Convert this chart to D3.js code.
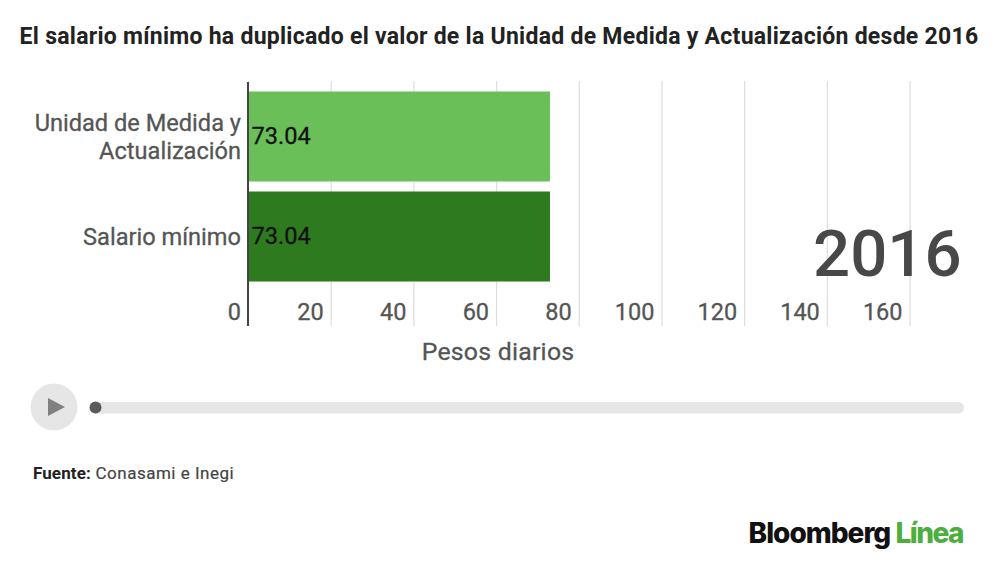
<!DOCTYPE html>
<html>
<head>
<meta charset="utf-8">
<script src="https://cdn.jsdelivr.net/npm/d3@7"></script>
<style>
  html, body { margin: 0; padding: 0; background: #fff; }
  text { font-family: Roboto, sans-serif; }
</style>
</head>
<body>
<svg id="chart" width="1000" height="568"></svg>
<script>
// data
const categories = ["Unidad de Medida y Actualización", "Salario mínimo"];
const categoryLines = [["Unidad de Medida y", "Actualización"], ["Salario mínimo"]];
const values = [73.04, 73.04];
const barColors = ["#6abf58", "#2e7a1f"];
const xTicks = [0, 20, 40, 60, 80, 100, 120, 140, 160];

const svg = d3.select("#chart");

const x = d3.scaleLinear().domain([0, 160]).range([248, 909.5]);
const y = d3.scaleBand().domain(categories).range([86.5, 286.5]).paddingInner(0.1).paddingOuter(0.05);

svg.append("text")
  .attr("x", 499)
  .attr("y", 44)
  .attr("text-anchor", "middle")
  .attr("font-size", 23)
  .attr("font-weight", 700)
  .attr("letter-spacing", 0.27)
  .attr("fill", "#222")
  .text("El salario mínimo ha duplicado el valor de la Unidad de Medida y Actualización desde 2016");

// Grid lines + tick labels (labels sit left of their line)
const xAxis = svg.append("g")
  .attr("transform", "translate(0,326)")
  .call(d3.axisBottom(x).tickValues(xTicks).tickSize(-245).tickPadding(0));
xAxis.select(".domain").remove();
xAxis.selectAll(".tick line").attr("stroke", "#ddd").attr("stroke-width", 1.2);
xAxis.selectAll(".tick text")
  .attr("text-anchor", "end")
  .attr("x", -7.5)
  .attr("y", -6)
  .attr("dy", 0)
  .attr("font-size", 23.5)
  .attr("fill", "#555")
  .attr("stroke", "#555")
  .attr("stroke-width", 0.3);

// Bars
svg.selectAll("rect.bar")
  .data(categories)
  .join("rect")
  .attr("class", "bar")
  .attr("x", x(0))
  .attr("y", (d) => y(d))
  .attr("width", (d, i) => x(values[i]) - x(0))
  .attr("height", y.bandwidth())
  .attr("fill", (d, i) => barColors[i]);

// Zero line on top of the bars
svg.append("line")
  .attr("x1", x(0))
  .attr("x2", x(0))
  .attr("y1", 82)
  .attr("y2", 326)
  .attr("stroke", "#444")
  .attr("stroke-width", 2);

// Value labels
svg.selectAll("text.value")
  .data(categories)
  .join("text")
  .attr("class", "value")
  .attr("x", x(0) + 3.5)
  .attr("y", (d) => y(d) + y.bandwidth() / 2 + 7.5)
  .attr("font-size", 23.6)
  .attr("fill", "#111")
  .attr("stroke", "#111")
  .attr("stroke-width", 0.3)
  .text((d, i) => values[i].toFixed(2));

// Category labels
svg.selectAll("text.cat")
  .data(categories)
  .join("text")
  .attr("class", "cat")
  .attr("text-anchor", "end")
  .attr("font-size", 23.6)
  .attr("fill", "#555")
  .attr("stroke", "#555")
  .attr("stroke-width", 0.3)
  .attr("y", (d, i) => y(d) + y.bandwidth() / 2 + 8.5)
  .each(function (d, i) {
    const lines = categoryLines[i];
    d3.select(this)
      .selectAll("tspan")
      .data(lines)
      .join("tspan")
      .attr("x", 241)
      .attr("dy", (l, j) => (j === 0 ? -(lines.length - 1) * 14 : 28))
      .text((l) => l);
  });

svg.append("text")
  .attr("x", 498)
  .attr("y", 360)
  .attr("text-anchor", "middle")
  .attr("font-size", 24.8)
  .attr("letter-spacing", 0.25)
  .attr("fill", "#555")
  .attr("stroke", "#555")
  .attr("stroke-width", 0.3)
  .text("Pesos diarios");

svg.append("text")
  .attr("x", 961.5)
  .attr("y", 275.5)
  .attr("text-anchor", "end")
  .attr("font-size", 65.3)
  .attr("font-weight", 500)
  .attr("fill", "#484848")
  .text("2016");

// Play control
svg.append("circle").attr("cx", 54).attr("cy", 407).attr("r", 23.5).attr("fill", "#e6e6e6");
svg.append("path").attr("d", d3.line()([[48, 398], [65, 407], [48, 416]]) + "Z").attr("fill", "#808080");
svg.append("rect")
  .attr("x", 90).attr("y", 402).attr("width", 874).attr("height", 11.5).attr("rx", 5.75)
  .attr("fill", "#e6e6e6");
svg.append("circle").attr("cx", 95.5).attr("cy", 407.5).attr("r", 6).attr("fill", "#5a5a5a");

// Source
const source = svg.append("text")
  .attr("x", 33)
  .attr("y", 479)
  .attr("font-size", 17)
  .attr("fill", "#444");
source.append("tspan").attr("font-weight", 700).attr("fill", "#222").attr("letter-spacing", 0.1).text("Fuente:");
source.append("tspan").attr("letter-spacing", 0.5).attr("stroke", "#444").attr("stroke-width", 0.2).text(" Conasami e Inegi");

// Logo wordmark
const logo = svg.append("text")
  .attr("x", 963)
  .attr("y", 543)
  .attr("text-anchor", "end")
  .attr("font-size", 28)
  .attr("font-weight", 800)
  .attr("letter-spacing", -1)
  .style("font-family", "Inter, sans-serif");
logo.append("tspan").attr("fill", "#111").text("Bloomberg ");
logo.append("tspan").attr("fill", "#4cae3e").attr("letter-spacing", -1.5).text("Línea");
</script>
</body>
</html>
